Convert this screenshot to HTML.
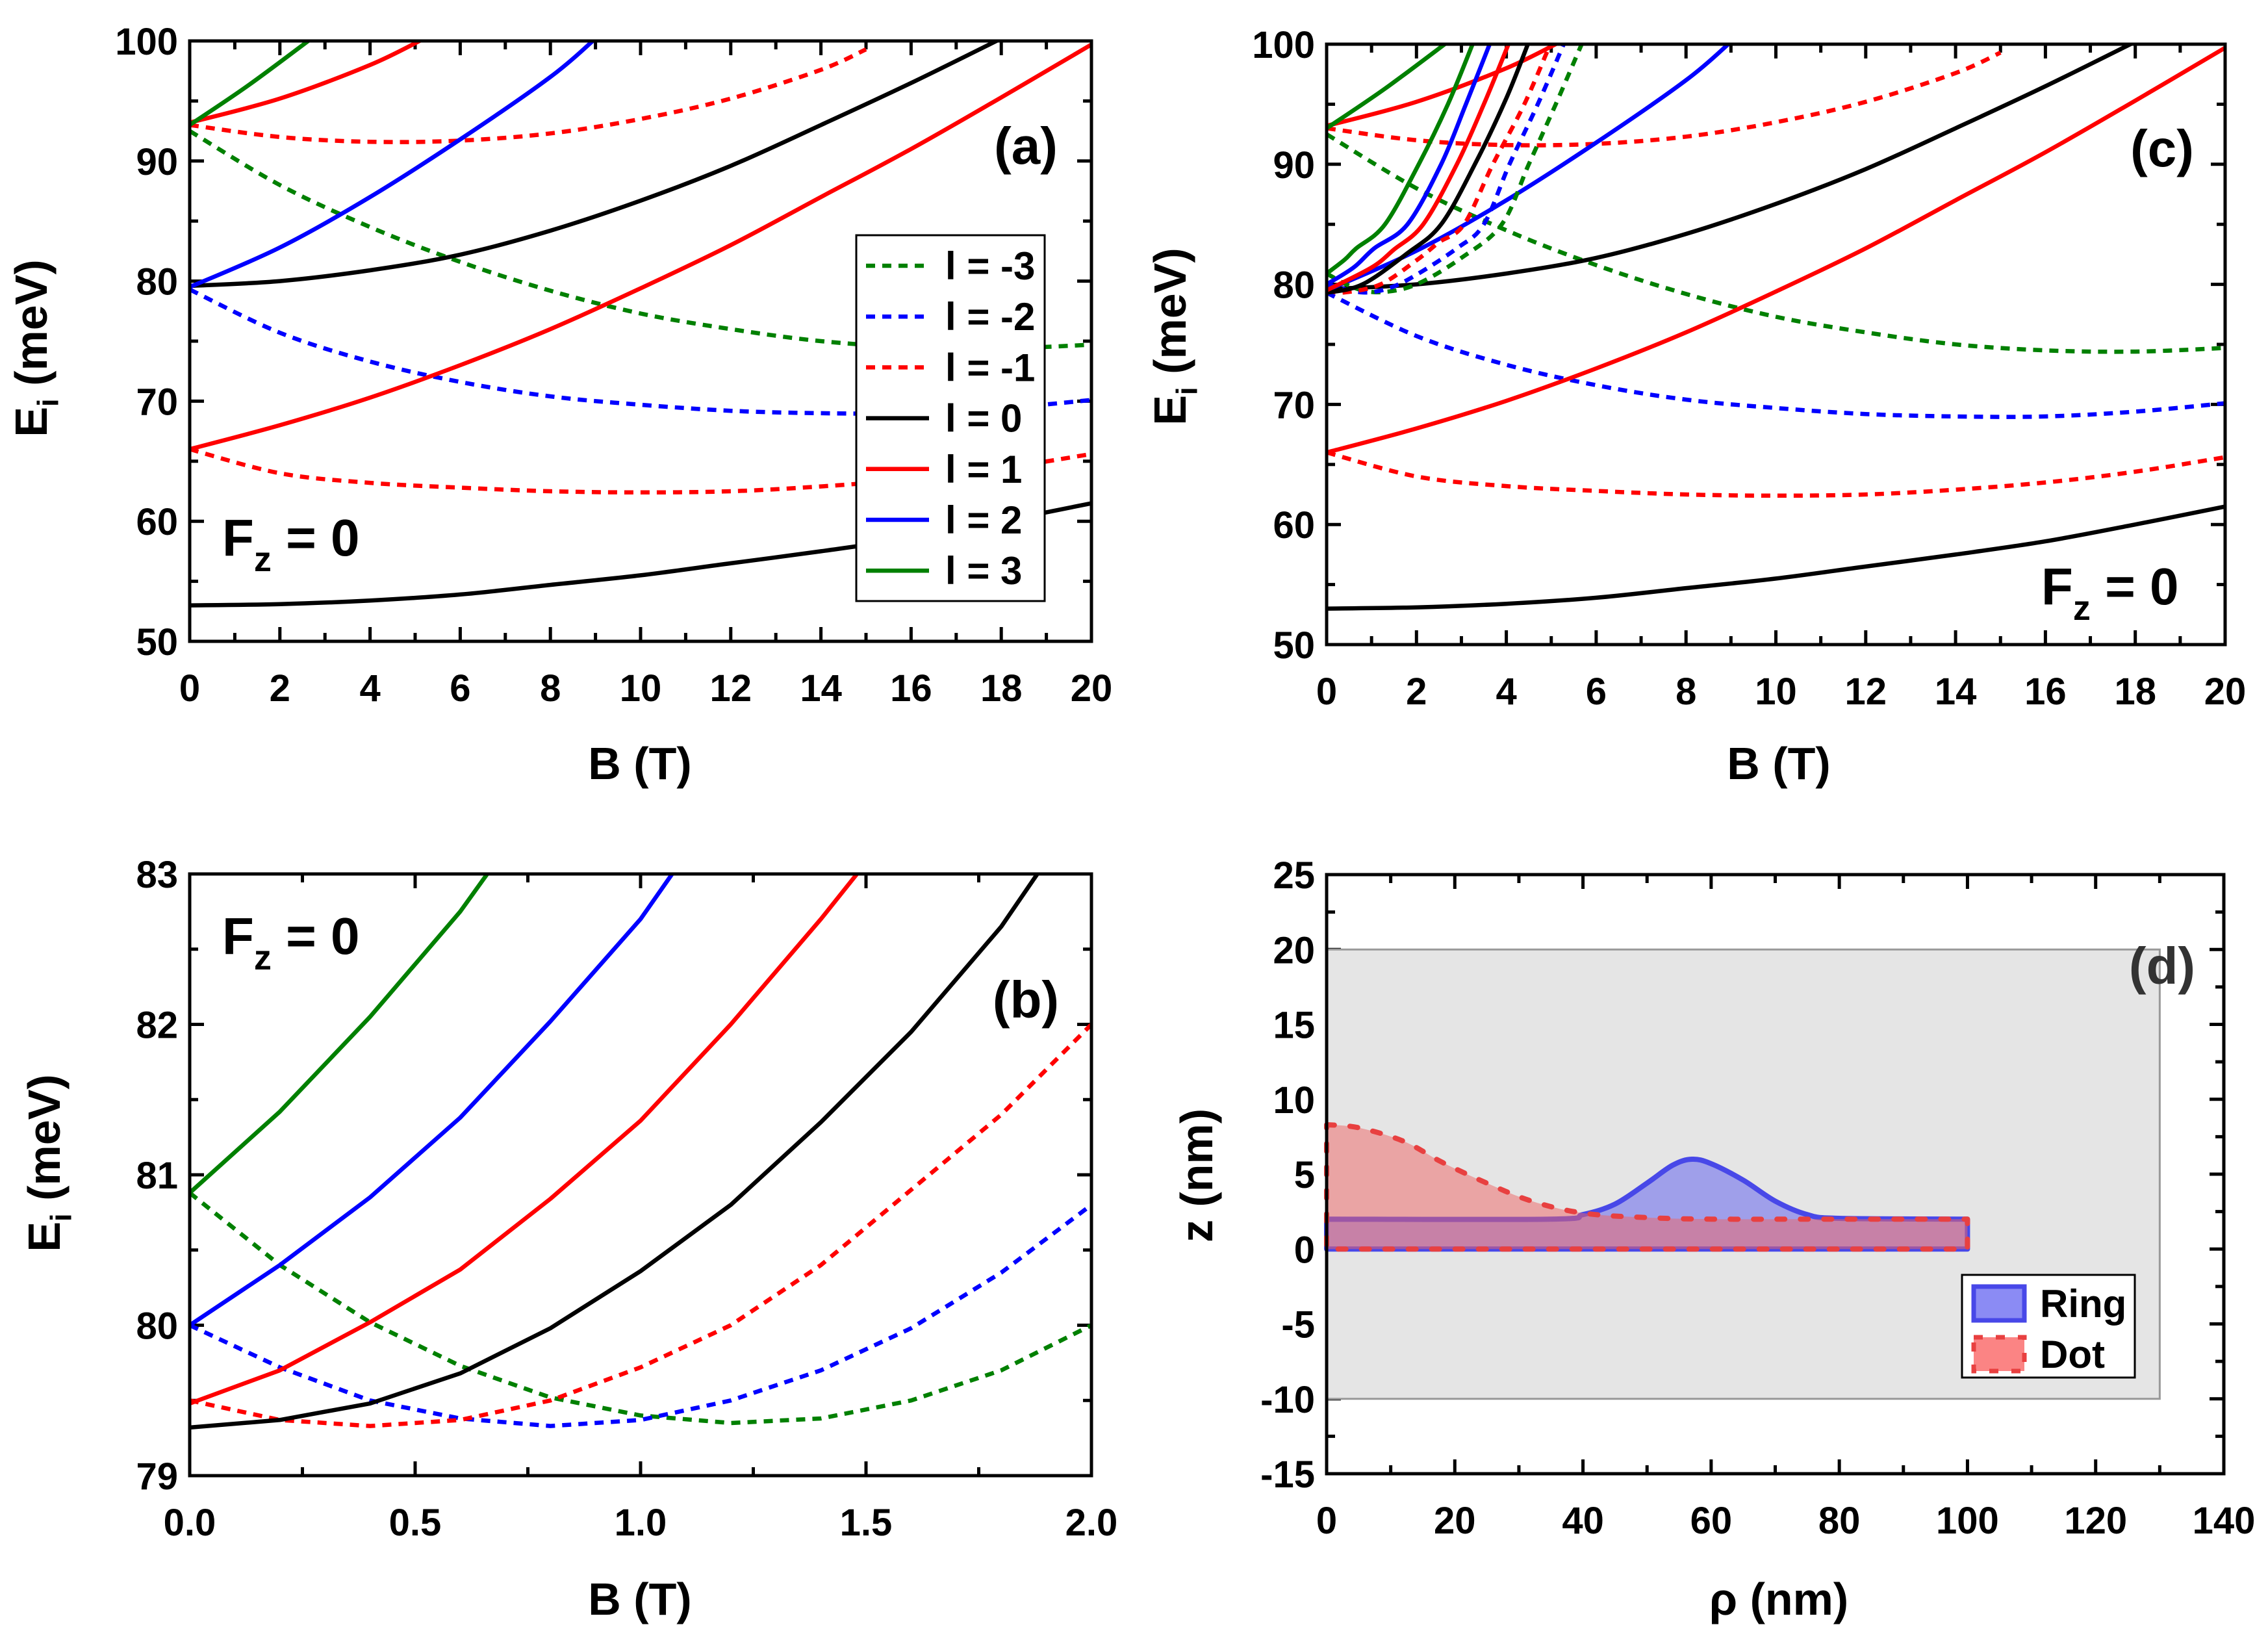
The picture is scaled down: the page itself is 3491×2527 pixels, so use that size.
<!DOCTYPE html>
<html><head><meta charset="utf-8">
<style>
html,body{margin:0;padding:0;background:#fff;}
svg{display:block;}
text{font-family:"Liberation Sans Narrow","Liberation Sans",sans-serif;font-weight:bold;}
</style></head>
<body>
<svg id="fig" width="3491" height="2527" viewBox="0 0 3491 2527" xmlns="http://www.w3.org/2000/svg"></svg>
<script>
// ---------- Panel (a) data ----------
const a_l0lo_B=[0,2,4,6,8,10,12,14,16,18,20];
const a_l0lo_E=[53,53.1,53.4,53.9,54.7,55.5,56.5,57.5,58.6,60,61.5];
const a_l0hi_B=[0,2,4,6,8,10,12,14,16,18];
const a_l0hi_E=[79.6,80,80.9,82.2,84.2,86.7,89.6,93,96.5,100.2];
const a_l1lo_B=[0,2,4,6,8,10,12,14,16,18,20];
const a_l1lo_E=[66,68,70.3,73,76,79.4,83,87,91,95.3,99.7];
const a_l1hi_B=[0,2,4,5.2];
const a_l1hi_E=[93.2,95.2,98,100.2];
const a_lm1lo_B=[0,2,4,6,8,10,12,14,16,18,20];
const a_lm1lo_E=[66,64,63.2,62.8,62.5,62.4,62.5,62.9,63.5,64.4,65.6];
const a_lm1hi_B=[0,2,4,6,8,10,12,14,15];
const a_lm1hi_E=[93,92,91.6,91.7,92.3,93.5,95.2,97.6,99.3];
const a_l2_B=[0,2,4,6,8,9];
const a_l2_E=[79.5,82.8,87,91.8,97,100.2];
const a_lm2_B=[0,2,4,6,8,10,12,14,16,18,20];
const a_lm2_E=[79.3,75.7,73.3,71.6,70.4,69.7,69.2,69,69,69.4,70.1];
const a_l3_B=[0,1.3,2.7];
const a_l3_E=[93,96.3,100.2];
const a_lm3_B=[0,2,4,6,8,10,12,14,16,18,20];
const a_lm3_E=[92.5,88,84.5,81.6,79.2,77.3,76,75,74.5,74.4,74.7];
// ---------- Panel (c) extra steep states ----------
const c_k0_B=[0,0.8,1.8,2.55,3.3,4.0,4.5];
const c_k0_E=[79.3,80,82.6,85,90,95.5,100.2];
const c_k1_B=[0,1.0,1.5,2.15,2.9,3.5,4.07];
const c_k1_E=[79.5,81.4,82.9,85,90,95,100.2];
const c_k2_B=[0,0.6,1.06,1.8,2.55,3.1,3.65];
const c_k2_E=[80,81.4,83,85,90,95,100.2];
const c_k3_B=[0,0.4,0.66,1.3,2.05,2.7,3.27];
const c_k3_E=[80.9,82.05,83,85,90,95,100.2];
const c_km1_B=[0,0.4,1.2,2.0,2.5,3.06,3.7,4.4,5.0];
const c_km1_E=[79.5,79.33,80,82,83.5,85,90,95,100.2];
const c_km2_B=[0,0.8,1.4,2.0,2.9,3.5,4.07,4.7,5.3];
const c_km2_E=[80,79.33,79.7,80.8,83,85,90,95,100.2];
const c_km3_B=[0,0.6,1.2,2.0,3.0,3.9,4.5,5.1,5.7];
const c_km3_E=[80.9,79.73,79.35,80,82.2,85,90,95,100.2];
// ---------- Panel (b) data ----------
const b_l0_B=[0,0.2,0.4,0.6,0.8,1.0,1.2,1.4,1.6,1.8,1.88];
const b_l0_E=[79.32,79.37,79.48,79.68,79.98,80.36,80.8,81.35,81.95,82.65,83];
const b_l1_B=[0,0.2,0.4,0.6,0.8,1.0,1.2,1.4,1.48];
const b_l1_E=[79.48,79.7,80.02,80.37,80.84,81.36,82,82.7,83];
const b_l2_B=[0,0.2,0.4,0.6,0.8,1.0,1.07];
const b_l2_E=[80,80.4,80.85,81.38,82.02,82.7,83];
const b_l3_B=[0,0.2,0.4,0.6,0.66];
const b_l3_E=[80.88,81.42,82.05,82.75,83];
const b_lm1_B=[0,0.2,0.4,0.6,0.8,1.0,1.2,1.4,1.6,1.8,2.0];
const b_lm1_E=[79.5,79.37,79.33,79.37,79.5,79.72,80,80.4,80.9,81.4,82];
const b_lm2_B=[0,0.2,0.4,0.6,0.8,1.0,1.2,1.4,1.6,1.8,2.0];
const b_lm2_E=[80,79.72,79.5,79.38,79.33,79.37,79.5,79.7,79.98,80.35,80.8];
const b_lm3_B=[0,0.2,0.4,0.6,0.8,1.0,1.2,1.4,1.6,1.8,2.0];
const b_lm3_E=[80.88,80.4,80.02,79.73,79.52,79.4,79.35,79.38,79.5,79.7,80];
// ---------- Panel (d) data ----------
const d_dot_rho=[0,5,12,18,25,32,40,50,60,80,100];
const d_dot_z=[8.3,8.1,7.2,5.8,4.4,3.2,2.4,2.1,2.0,2.0,2.0];
const d_ring_rho=[0,35,40,45,50,54,57,60,65,70,75,80,100];
const d_ring_z=[2,2,2.3,3,4.4,5.6,6,5.7,4.6,3.2,2.3,2.05,2];
const d_box_rho=[0,130];
const d_box_z=[-10,20];
const d_legend=["Ring","Dot"];

const legendLabels=["l = -3","l = -2","l = -1","l = 0","l = 1","l = 2","l = 3"];
const legendColors=["#008000","#0000ff","#ff0000","#000000","#ff0000","#0000ff","#008000"];
const legendDashed=[true,true,true,false,false,false,false];

const NS="http://www.w3.org/2000/svg";
const svg=document.getElementById('fig');
function el(tag,attrs,parent){const e=document.createElementNS(NS,tag);for(const k in attrs)e.setAttribute(k,attrs[k]);(parent||svg).appendChild(e);return e;}
function txt(s,attrs,parent){const e=el('text',attrs,parent);e.textContent=s;return e;}

function makeAxes(id,box,xr,yr,xMaj,xMin,yMaj,yMin,xFmt,yFmt){
  const g=el('g',{});
  
  
  const sx=v=>box.l+(v-xr[0])/(xr[1]-xr[0])*(box.r-box.l);
  const sy=v=>box.b-(v-yr[0])/(yr[1]-yr[0])*(box.b-box.t);
  const cp=el('clipPath',{id:'clip-'+id},g);
  el('rect',{x:box.l,y:box.t,width:box.r-box.l,height:box.b-box.t},cp);
  const tl=22,tm=13;
  for(let v=xr[0];v<=xr[1]+1e-9;v+=xMin){
    const maj=Math.abs(Math.round((v-xr[0])/xMaj)*xMaj-(v-xr[0]))<1e-6;
    const L=maj?tl:tm,x=sx(v);
    el('line',{x1:x,y1:box.b,x2:x,y2:box.b-L,stroke:'#000','stroke-width':5},g);
    el('line',{x1:x,y1:box.t,x2:x,y2:box.t+L,stroke:'#000','stroke-width':5},g);
    if(maj){const t=txt(xFmt(v),{x:x,y:box.b+92,'font-size':58,'text-anchor':'middle'},g);
      }
  }
  for(let v=yr[0];v<=yr[1]+1e-9;v+=yMin){
    const maj=Math.abs(Math.round((v-yr[0])/yMaj)*yMaj-(v-yr[0]))<1e-6;
    const L=maj?tl:tm,y=sy(v);
    el('line',{x1:box.l,y1:y,x2:box.l+L,y2:y,stroke:'#000','stroke-width':5},g);
    el('line',{x1:box.r,y1:y,x2:box.r-L,y2:y,stroke:'#000','stroke-width':5},g);
    if(maj){const t=txt(yFmt(v),{x:box.l-18,y:y+21,'font-size':58,'text-anchor':'end'},g);
      }
  }
  return {sx,sy,g,box,clip:'url(#clip-'+id+')'};
}
function frame(ax){
  const r=el('rect',{x:ax.box.l,y:ax.box.t,width:ax.box.r-ax.box.l,height:ax.box.b-ax.box.t,fill:'none',stroke:'#000','stroke-width':5});
  
}
function smoothPath(P){
  if(P.length<3){return P.map((p,i)=>(i?'L':'M')+p[0].toFixed(1)+','+p[1].toFixed(1)).join('');}
  let d='M'+P[0][0].toFixed(1)+','+P[0][1].toFixed(1);
  for(let i=0;i<P.length-1;i++){
    const p0=P[i-1]||P[i],p1=P[i],p2=P[i+1],p3=P[i+2]||P[i+1];
    const c1=[p1[0]+(p2[0]-p0[0])/6,p1[1]+(p2[1]-p0[1])/6];
    const c2=[p2[0]-(p3[0]-p1[0])/6,p2[1]-(p3[1]-p1[1])/6];
    d+='C'+c1[0].toFixed(1)+','+c1[1].toFixed(1)+' '+c2[0].toFixed(1)+','+c2[1].toFixed(1)+' '+p2[0].toFixed(1)+','+p2[1].toFixed(1);
  }
  return d;
}
function curve(ax,X,Y,color,dashed,name,linear){
  const P=X.map((x,i)=>[ax.sx(x),ax.sy(Y[i])]);
  const d=linear?P.map((p,i)=>(i?'L':'M')+p[0].toFixed(1)+','+p[1].toFixed(1)).join(''):smoothPath(P);
  const p=el('path',{d:d,fill:'none',stroke:color,'stroke-width':6.5,'stroke-linejoin':'round','clip-path':ax.clip});
  if(dashed)p.setAttribute('stroke-dasharray','14,11');
  
}
function title(main,sub,rest,x,y,rot,size,name){
  const t=el('text',{x:x,y:y,'font-size':size,'text-anchor':'middle',transform:rot?`rotate(-90 ${x} ${y})`:''});
  
  t.appendChild(document.createTextNode(main));
  if(sub){const ts=el('tspan',{'font-size':size*0.65,dy:size*0.25},t);ts.textContent=sub;
    const ts2=el('tspan',{dy:-size*0.25},t);ts2.textContent=rest;}
  else if(rest){t.appendChild(document.createTextNode(rest));}
  return t;
}
function fz(x,y,name){
  const t=el('text',{x:x,y:y,'font-size':80});
  
  t.appendChild(document.createTextNode('F'));
  const s=el('tspan',{'font-size':54,dy:24},t);s.textContent='z';
  const s2=el('tspan',{dy:-24},t);s2.textContent=' = 0';
}
function panelLabel(s,x,y,name,color){
  const t=txt(s,{x:x,y:y,'font-size':80,'text-anchor':'middle',fill:color||'#000'});
  
}
const f0=v=>String(Math.round(v));
const f1=v=>v.toFixed(1);

function drawBase(ax,pfx){
  curve(ax,a_lm3_B,a_lm3_E,'#008000',true,pfx+'l-minus3');
  curve(ax,a_lm2_B,a_lm2_E,'#0000ff',true,pfx+'l-minus2');
  curve(ax,a_lm1lo_B,a_lm1lo_E,'#ff0000',true,pfx+'l-minus1-lower');
  curve(ax,a_lm1hi_B,a_lm1hi_E,'#ff0000',true,pfx+'l-minus1-upper');
  curve(ax,a_l0lo_B,a_l0lo_E,'#000',false,pfx+'l0-lower');
  curve(ax,a_l0hi_B,a_l0hi_E,'#000',false,pfx+'l0-upper');
  curve(ax,a_l1lo_B,a_l1lo_E,'#ff0000',false,pfx+'l1-lower');
  curve(ax,a_l1hi_B,a_l1hi_E,'#ff0000',false,pfx+'l1-upper');
  curve(ax,a_l2_B,a_l2_E,'#0000ff',false,pfx+'l2');
  curve(ax,a_l3_B,a_l3_E,'#008000',false,pfx+'l3');
}

// ---- Panel (a)
const A=makeAxes('panel-a',{l:292,r:1680,t:63,b:987},[0,20],[50,100],2,1,10,5,f0,f0);
drawBase(A,'a-');
frame(A);
const lg=el('g',{});
el('rect',{x:1318,y:362,width:290,height:563,fill:'#fff',stroke:'#000','stroke-width':3},lg);
for(let i=0;i<legendLabels.length;i++){
  const y=409+i*78.2;
  const ln=el('line',{x1:1333,y1:y,x2:1430,y2:y,stroke:legendColors[i],'stroke-width':6.5},lg);
  if(legendDashed[i])ln.setAttribute('stroke-dasharray','14,11');
  
  const t=txt(legendLabels[i],{x:1455,y:y+21,'font-size':60},lg);
  
}
panelLabel('(a)',1579,252,'panel-a-label');
fz(342,855,'field-label-a');
title('E','i',' (meV)',72,536,true,70,'y-axis-title-a');
title('B (T)','','',985,1199,false,70,'x-axis-title-a');

// ---- Panel (c)
const C=makeAxes('panel-c',{l:2042,r:3425,t:68,b:992},[0,20],[50,100],2,1,10,5,f0,f0);
drawBase(C,'c-');
curve(C,c_km3_B,c_km3_E,'#008000',true,'c-steep-l-minus3');
curve(C,c_km2_B,c_km2_E,'#0000ff',true,'c-steep-l-minus2');
curve(C,c_km1_B,c_km1_E,'#ff0000',true,'c-steep-l-minus1');
curve(C,c_k0_B,c_k0_E,'#000',false,'c-steep-l0');
curve(C,c_k1_B,c_k1_E,'#ff0000',false,'c-steep-l1');
curve(C,c_k2_B,c_k2_E,'#0000ff',false,'c-steep-l2');
curve(C,c_k3_B,c_k3_E,'#008000',false,'c-steep-l3');
frame(C);
panelLabel('(c)',3328,256,'panel-c-label');
fz(3142,930,'field-label-c');
title('E','i',' (meV)',1825,518,true,70,'y-axis-title-c');
title('B (T)','','',2738,1199,false,70,'x-axis-title-c');

// ---- Panel (b)
const Bp=makeAxes('panel-b',{l:292,r:1680,t:1345,b:2271},[0,2],[79,83],0.5,0.25,1,0.5,f1,f0);
curve(Bp,b_lm3_B,b_lm3_E,'#008000',true,'b-l-minus3',true);
curve(Bp,b_lm2_B,b_lm2_E,'#0000ff',true,'b-l-minus2',true);
curve(Bp,b_lm1_B,b_lm1_E,'#ff0000',true,'b-l-minus1',true);
curve(Bp,b_l0_B,b_l0_E,'#000',false,'b-l0',true);
curve(Bp,b_l1_B,b_l1_E,'#ff0000',false,'b-l1',true);
curve(Bp,b_l2_B,b_l2_E,'#0000ff',false,'b-l2',true);
curve(Bp,b_l3_B,b_l3_E,'#008000',false,'b-l3',true);
frame(Bp);
panelLabel('(b)',1579,1566,'panel-b-label');
fz(342,1468,'field-label-b');
title('E','i',' (meV)',92,1790,true,70,'y-axis-title-b');
title('B (T)','','',985,2485,false,70,'x-axis-title-b');

// ---- Panel (d)
const D=makeAxes('panel-d',{l:2042,r:3423,t:1346,b:2268},[0,140],[-15,25],20,10,5,2.5,f0,f0);
const bx=el('rect',{x:D.sx(d_box_rho[0]),y:D.sy(d_box_z[1]),width:D.sx(d_box_rho[1])-D.sx(d_box_rho[0]),height:D.sy(d_box_z[0])-D.sy(d_box_z[1]),fill:'#e5e5e5',stroke:'#999','stroke-width':3});

function shape(X,Z){
  const P=X.map((x,i)=>[D.sx(x),D.sy(Z[i])]);
  let d=smoothPath(P);
  d+='L'+D.sx(X[X.length-1]).toFixed(1)+','+D.sy(0).toFixed(1)+'L'+D.sx(X[0]).toFixed(1)+','+D.sy(0).toFixed(1)+'Z';
  return d;
}
const ring=el('path',{d:shape(d_ring_rho,d_ring_z),fill:'rgba(90,90,240,0.5)',stroke:'#4848e8','stroke-width':8,'stroke-linejoin':'round'});

const dot=el('path',{d:shape(d_dot_rho,d_dot_z),fill:'rgba(240,100,100,0.5)',stroke:'#e84040','stroke-width':8,'stroke-dasharray':'12,24','stroke-linecap':'round','stroke-linejoin':'round'});

frame(D);
panelLabel('(d)',3328,1514,'panel-d-label','#333');
const lgd=el('g',{});
el('rect',{x:3020,y:1962,width:266,height:158,fill:'#fff',stroke:'#000','stroke-width':3},lgd);
const sw1=el('rect',{x:3038,y:1980,width:78,height:52,fill:'rgba(90,90,240,0.7)',stroke:'#4848e8','stroke-width':7},lgd);

const sw2=el('rect',{x:3038,y:2058,width:78,height:52,fill:'rgba(250,110,110,0.85)',stroke:'#e84040','stroke-width':7,'stroke-dasharray':'14,20'},lgd);

for(let i=0;i<d_legend.length;i++){
  const t=txt(d_legend[i],{x:3140,y:2027+i*78,'font-size':60},lgd);
  
}
title('z (nm)','','',1866,1809,true,70,'y-axis-title-d');
title('ρ (nm)','','',2738,2485,false,70,'x-axis-title-d');
</script>
</body></html>
